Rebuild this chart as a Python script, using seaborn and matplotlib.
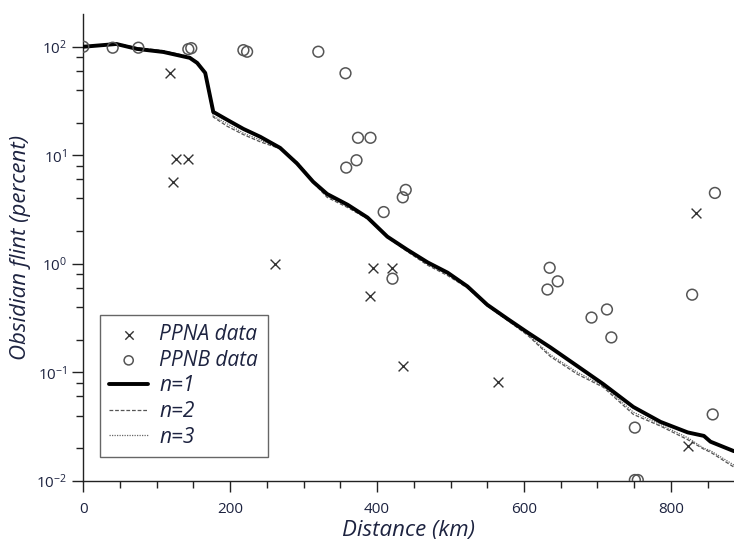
import numpy as np
import pandas as pd
import matplotlib
matplotlib.use("Agg")
import matplotlib.pyplot as plt
from matplotlib.ticker import FixedLocator, NullFormatter, MultipleLocator
import seaborn as sns

# ---------------- data ----------------
ppna_km = [118, 126, 143, 122, 261, 394, 421, 390, 435, 564, 834, 823]
ppna_pct = [57, 9.3, 9.3, 5.7, 1.0, 0.92, 0.92, 0.51, 0.114, 0.081, 2.96, 0.021]

ppnb_km = [0, 40, 75, 143, 147, 218, 223, 320, 357, 374, 391, 372, 358, 439, 435, 409,
           421, 635, 632, 646, 692, 713, 719, 829, 860, 857, 751, 751, 755]
ppnb_pct = [100, 98, 98, 95, 97, 93, 90, 90, 57, 14.5, 14.5, 9.0, 7.7, 4.8, 4.1, 3.0,
            0.73, 0.92, 0.58, 0.69, 0.32, 0.38, 0.21, 0.52, 4.5, 0.041, 0.031, 0.0102, 0.0102]

line_km = [0, 45, 73, 109, 145, 155, 166, 177, 196, 218, 241, 268, 291, 313, 332, 360,
           387, 414, 441, 469, 496, 523, 550, 578, 605, 636, 673, 708, 749, 786, 823,
           845, 854, 886]
n1_pct = [100, 106, 95.5, 89.5, 79, 71, 57.4, 25.1, 21.2, 17.5, 14.8, 11.7, 8.4, 5.7,
          4.4, 3.5, 2.67, 1.78, 1.35, 1.03, 0.83, 0.62, 0.42, 0.31, 0.233, 0.17, 0.114,
          0.078, 0.048, 0.035, 0.028, 0.026, 0.023, 0.0188]
n2_pct = [100, 108, 98, 92, 81, 72, 57, 22.5, 18.5, 15.5, 13.3, 11.5, 8.6, 5.6, 4.1,
          3.3, 2.6, 1.75, 1.3, 0.97, 0.78, 0.6, 0.41, 0.30, 0.22, 0.14, 0.096, 0.073,
          0.041, 0.032, 0.024, 0.0196, 0.0184, 0.0134]
n3_pct = [100, 107, 97, 91, 80, 72, 57, 23, 19.5, 16, 13.8, 11.6, 8.7, 5.8, 4.2, 3.4,
          2.65, 1.8, 1.32, 0.99, 0.8, 0.61, 0.41, 0.30, 0.225, 0.145, 0.10, 0.075,
          0.043, 0.033, 0.025, 0.020, 0.019, 0.014]

x_ticks = [0, 200, 400, 600, 800]
y_ticks = [0.01, 0.1, 1, 10, 100]
y_tick_labels = [r"$10^{-2}$", r"$10^{-1}$", r"$10^{0}$", r"$10^{1}$", r"$10^{2}$"]

# ---------------- style ----------------
sns.set_theme(style="white")
plt.rcParams["font.family"] = ["Open Sans", "DejaVu Sans"]
plt.rcParams["mathtext.fontset"] = "custom"
plt.rcParams["mathtext.rm"] = "Open Sans"
plt.rcParams["mathtext.it"] = "Open Sans:italic"
text_col = "#1d2340"

fig = plt.figure(figsize=(7.34, 5.41), dpi=100)
ax = fig.add_axes([0.1135, 0.111, 0.8865, 0.863])

df_a = pd.DataFrame({"km": ppna_km, "pct": ppna_pct})
df_b = pd.DataFrame({"km": ppnb_km, "pct": ppnb_pct})
df_l = pd.DataFrame({"km": line_km, "n1": n1_pct, "n2": n2_pct, "n3": n3_pct})

sns.lineplot(data=df_l, x="km", y="n3", ax=ax, color="#666666", lw=0.9,
             linestyle=(0, (1, 1)), label="n=3", zorder=2)
sns.lineplot(data=df_l, x="km", y="n2", ax=ax, color="#555555", lw=0.9,
             linestyle=(0, (3, 1.5)), label="n=2", zorder=2)
sns.lineplot(data=df_l, x="km", y="n1", ax=ax, color="black", lw=2.8,
             label="n=1", zorder=3)
sns.scatterplot(data=df_a, x="km", y="pct", ax=ax, marker="x", s=50,
                color="#333333", linewidth=1.0, label="PPNA data", zorder=4)
sns.scatterplot(data=df_b, x="km", y="pct", ax=ax, marker="o", s=60,
                facecolor="none", edgecolor="#555555", linewidth=1.1,
                label="PPNB data", zorder=4, clip_on=True)

ax.set_yscale("log")
ax.set_xlim(0, 886)
ax.set_ylim(0.01, 200)

ax.xaxis.set_major_locator(FixedLocator(x_ticks))
ax.xaxis.set_minor_locator(MultipleLocator(50))
ax.set_yticks(y_ticks)
ax.set_yticklabels(y_tick_labels)
minor_y = [m * 10.0 ** e for e in range(-2, 3) for m in (2, 4, 6, 8) if m * 10.0 ** e < 200]
ax.yaxis.set_minor_locator(FixedLocator(minor_y))
ax.yaxis.set_minor_formatter(NullFormatter())

ax.tick_params(axis="both", which="major", direction="out", length=8, width=1,
               colors="#222222", labelcolor=text_col, labelsize=11, left=True, bottom=True)
ax.tick_params(axis="both", which="minor", direction="out", length=5, width=1,
               colors="#222222", left=True, bottom=True)
ax.tick_params(axis="x", pad=7)

for s in ("top", "right"):
    ax.spines[s].set_visible(False)
for s in ("left", "bottom"):
    ax.spines[s].set_color("#222222")
    ax.spines[s].set_linewidth(1.0)

ax.set_xlabel("Distance (km)", fontsize=16, style="italic", color=text_col, labelpad=2)
ax.set_ylabel("Obsidian flint (percent)", fontsize=16, style="italic", color=text_col, labelpad=4)

handles, labels = ax.get_legend_handles_labels()
order = ["PPNA data", "PPNB data", "n=1", "n=2", "n=3"]
hmap = dict(zip(labels, handles))
leg = ax.legend([hmap[k] for k in order], order, loc="lower left",
                bbox_to_anchor=(0.0257, 0.0514), borderaxespad=0, frameon=True,
                fancybox=False, edgecolor="#666666", framealpha=1, handlelength=1.85,
                handletextpad=0.55, labelspacing=0.22, borderpad=0.45, markerscale=0.85,
                prop={"style": "italic", "size": 15})
leg.get_frame().set_linewidth(1.0)
for t in leg.get_texts():
    t.set_color(text_col)

fig.savefig("out.png", dpi=100)
